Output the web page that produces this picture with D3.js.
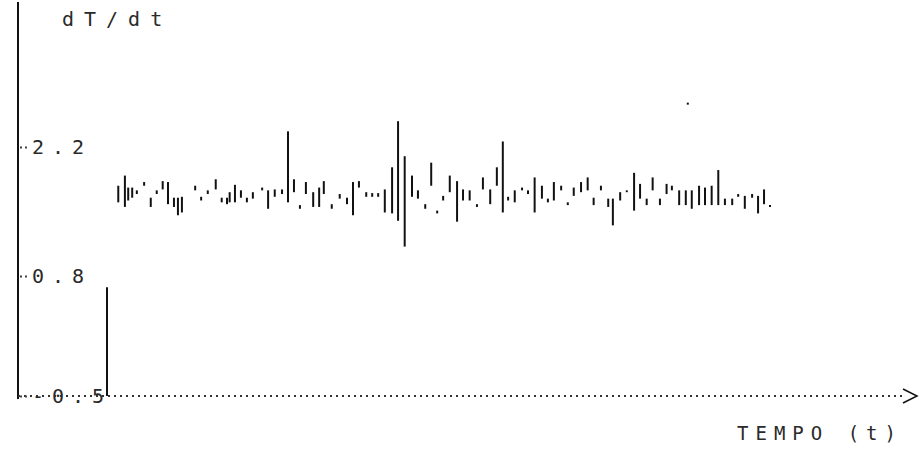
<!DOCTYPE html>
<html>
<head>
<meta charset="utf-8">
<script src="https://cdn.jsdelivr.net/npm/d3@7"></script>
<style>
  body { margin: 0; background: #fff; }
  text { font-family: "DejaVu Sans Mono", monospace; fill: #2a2a2a; }
</style>
</head>
<body>
<div id="chart"></div>
<script>
(function(){

const width = 922;
const height = 470;

// time (arbitrary units, no ticks on the original) and the low/high end of each dT/dt stroke
const times = [0, 1.7, 2.7, 3.2, 3.8, 4.5, 5.6, 6.6, 7.5, 8.4,
  9.2, 10.1, 10.7, 11.3, 13.3, 14.2, 15.2, 16.4, 17.3, 18.1,
  18.5, 19.3, 20.2, 21.1, 22.0, 23.4, 24.3, 25.3, 26.4, 27.3,
  28.2, 29.1, 30.0, 31.1, 32.0, 32.7, 33.9, 35.1, 36.2, 37.1,
  38.0, 39.1, 40.0, 40.9, 41.9, 43.0, 43.9, 44.9, 46.0, 46.9,
  48.0, 48.9, 49.8, 50.7, 51.7, 52.8, 53.7, 54.7, 55.8, 56.7,
  57.8, 58.8, 59.7, 60.5, 61.5, 62.6, 63.5, 64.5, 65.6, 66.5,
  67.4, 68.5, 69.5, 70.4, 71.5, 72.5, 73.4, 74.5, 75.6, 76.3,
  77.4, 78.4, 79.5, 80.4, 81.4, 82.3, 83.4, 84.4, 85.2, 86.3,
  87.3, 88.2, 89.3, 90.2, 91.2, 92.2, 93.2, 94.3, 95.2, 96.2,
  97.3, 98.2, 99.1, 100];

const upper = [0.68, 1.78, 1.89, 1.76, 1.76, 1.73, 1.82, 1.65, 1.73, 1.83,
  1.82, 1.65, 1.65, 1.66, 1.78, 1.66, 1.73, 1.85, 1.65, 1.65,
  1.71, 1.79, 1.73, 1.65, 1.71, 1.76, 1.73, 1.74, 1.74, 2.37,
  1.85, 1.57, 1.82, 1.71, 1.76, 1.83, 1.58, 1.69, 1.65, 1.82,
  1.83, 1.71, 1.70, 1.70, 1.74, 1.98, 2.48, 2.10, 1.89, 1.73,
  1.58, 2.03, 1.51, 1.67, 1.89, 1.83, 1.74, 1.73, 1.58, 1.87,
  1.74, 1.98, 2.26, 1.66, 1.73, 1.76, 1.73, 1.87, 1.78, 1.64,
  1.82, 1.78, 1.60, 1.76, 1.82, 1.87, 1.65, 1.78, 1.64, 1.64,
  1.71, 1.73, 1.92, 1.80, 1.64, 1.87, 1.64, 1.80, 1.78, 1.73,
  1.73, 1.73, 1.78, 1.76, 1.78, 1.95, 1.64, 1.64, 1.69, 1.67,
  1.69, 1.67, 1.74, 1.57];

const lower = [-0.5, 1.60, 1.55, 1.62, 1.65, 1.69, 1.78, 1.55, 1.69, 1.74,
  1.58, 1.55, 1.46, 1.49, 1.73, 1.62, 1.69, 1.74, 1.60, 1.58,
  1.60, 1.60, 1.65, 1.60, 1.64, 1.73, 1.53, 1.66, 1.69, 1.60,
  1.71, 1.53, 1.69, 1.55, 1.55, 1.69, 1.53, 1.64, 1.58, 1.46,
  1.76, 1.66, 1.66, 1.66, 1.49, 1.48, 1.40, 1.12, 1.66, 1.64,
  1.53, 1.78, 1.48, 1.62, 1.71, 1.39, 1.62, 1.62, 1.55, 1.74,
  1.58, 1.78, 1.49, 1.62, 1.60, 1.73, 1.69, 1.49, 1.64, 1.60,
  1.62, 1.73, 1.57, 1.67, 1.71, 1.73, 1.57, 1.73, 1.55, 1.35,
  1.62, 1.71, 1.51, 1.64, 1.57, 1.73, 1.57, 1.69, 1.73, 1.57,
  1.57, 1.53, 1.57, 1.57, 1.57, 1.57, 1.57, 1.57, 1.66, 1.53,
  1.65, 1.48, 1.58, 1.55];

// lone speck above the trace
const strayTimes = [87.6];
const strayValues = [2.67];

const yTicks = [2.2, 0.8, -0.5];
const yTickLabels = ["2.2", "0.8", "-0.5"];

const svg = d3.select("#chart")
  .append("svg")
  .attr("width", width)
  .attr("height", height);

// scales
const x = d3.scaleLinear()
  .domain([0, 100])
  .range([107, 770]);

const y = d3.scaleLinear()
  .domain([-0.5, 2.2])
  .range([396, 147]);

const axisX = 18;
const axisY = y(-0.5);

// y axis line
svg.append("line")
  .attr("x1", axisX).attr("x2", axisX)
  .attr("y1", 2).attr("y2", axisY + 3)
  .attr("stroke", "#111")
  .attr("stroke-width", 2);

// x axis, dotted with arrow
svg.append("line")
  .attr("x1", axisX).attr("x2", 904)
  .attr("y1", axisY).attr("y2", axisY)
  .attr("stroke", "#333")
  .attr("stroke-width", 2)
  .attr("stroke-dasharray", "2,4");

svg.append("path")
  .attr("d", `M903,${axisY - 7} L917,${axisY} L903,${axisY + 7}`)
  .attr("fill", "none")
  .attr("stroke", "#111")
  .attr("stroke-width", 1.5);

// y ticks + labels
const yAxis = svg.append("g")
  .attr("transform", `translate(${axisX},0)`)
  .call(d3.axisRight(y)
    .tickValues(yTicks)
    .tickSize(10)
    .tickPadding(4)
    .tickFormat((d, i) => yTickLabels[i]));

yAxis.select(".domain").remove();
yAxis.selectAll(".tick line")
  .attr("stroke", "#444")
  .attr("stroke-width", 2)
  .attr("stroke-dasharray", "2,3")
  .attr("x1", 2);
yAxis.selectAll(".tick text")
  .attr("font-family", "DejaVu Sans Mono")
  .attr("font-size", 20)
  .attr("fill", "#2a2a2a")
  .style("letter-spacing", "8px");

// axis titles
svg.append("text")
  .attr("x", 62)
  .attr("y", 26)
  .style("font-size", "20px")
  .style("letter-spacing", "10px")
  .text("dT/dt");

svg.append("text")
  .attr("x", 737)
  .attr("y", 440)
  .style("font-size", "19px")
  .style("letter-spacing", "7px")
  .text("TEMPO (t)");

// dT/dt strokes
svg.selectAll("line.stroke")
  .data(times)
  .enter()
  .append("line")
  .attr("class", "stroke")
  .attr("x1", d => x(d))
  .attr("x2", d => x(d))
  .attr("y1", (d, i) => y(upper[i]))
  .attr("y2", (d, i) => y(lower[i]))
  .attr("stroke", "#111")
  .attr("stroke-width", 2);

svg.selectAll("rect.stray")
  .data(strayTimes)
  .enter()
  .append("rect")
  .attr("class", "stray")
  .attr("x", d => x(d) - 1)
  .attr("y", (d, i) => y(strayValues[i]) - 1)
  .attr("width", 2)
  .attr("height", 2)
  .attr("fill", "#111");

})();
</script>
</body>
</html>
